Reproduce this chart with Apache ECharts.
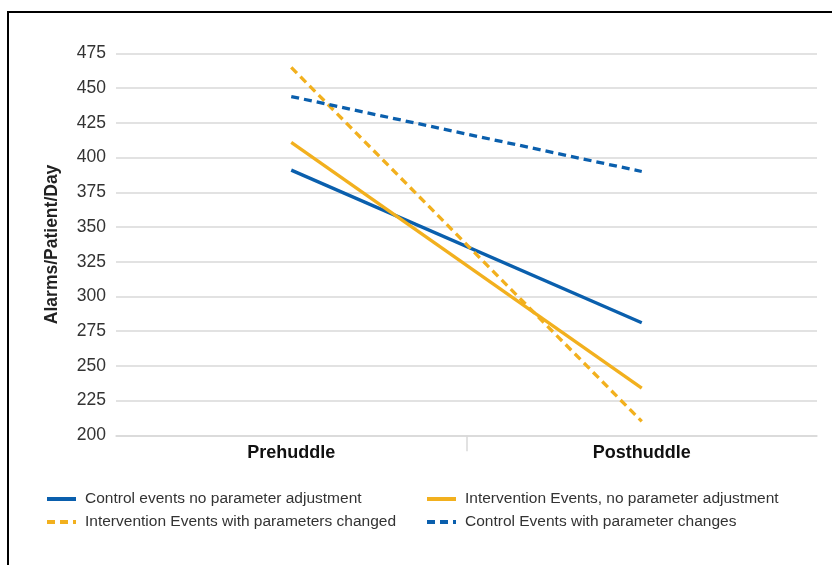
<!DOCTYPE html>
<html><head><meta charset="utf-8">
<script src="https://cdn.jsdelivr.net/npm/echarts@6/dist/echarts.min.js"></script>
<style>html,body{margin:0;padding:0;background:#fff}#c{width:832px;height:565px}</style>
</head><body><div id="c"></div>
<script>
const categories = ['Prehuddle', 'Posthuddle'];
const controlNoParam = [391, 281];
const interventionNoParam = [411, 234];
const interventionWithParams = [465, 210];
const controlWithParams = [444, 390];
const yTicks = {min: 200, max: 475, interval: 25};

const BLUE = '#0a5fad', YELLOW = '#f2b01e';
const FONT = '"Liberation Sans", Arial, sans-serif';
const chart = echarts.init(document.getElementById('c'));
function s(name, data, color, type) {
  return {name, type: 'line', data, symbol: 'none', silent: true, xAxisIndex: 0,
    lineStyle: {color, width: 3.3, type: type === 'dashed' ? [8, 5] : 'solid'},
    itemStyle: {color}};
}
const legendBase = {top: 491, orient: 'vertical', padding: 0, itemWidth: 29, itemHeight: 12, itemGap: 7,
  itemStyle: {opacity: 0},
  lineStyle: {width: 4},
  textStyle: {fontFamily: FONT, fontSize: 15.5, color: '#333', padding: [0, 0, 0, 4]}};
chart.setOption({
  animation: false,
  graphic: [{type: 'rect', shape: {x: 8, y: 12, width: 840, height: 580},
    style: {fill: 'none', stroke: '#000', lineWidth: 2}, silent: true}],
  grid: {left: 116, right: 15, top: 53.5, bottom: 129.7},
  legend: [
    Object.assign({}, legendBase, {left: 45,
      data: ['Control events no parameter adjustment', 'Intervention Events with parameters changed']}),
    Object.assign({}, legendBase, {left: 425,
      data: ['Intervention Events, no parameter adjustment', 'Control Events with parameter changes']})
  ],
  xAxis: [
    {type: 'category', data: categories, boundaryGap: true,
      axisLine: {lineStyle: {color: '#d9d9d9', width: 1.5}},
      axisTick: {show: false},
      axisLabel: {fontFamily: FONT, fontSize: 18, fontWeight: 'bold', color: '#111', margin: 9}},
    {type: 'category', data: ['', 'mid', ''], boundaryGap: false, position: 'bottom',
      axisLine: {show: false}, axisLabel: {show: false}, splitLine: {show: false},
      axisTick: {show: true, length: 16, interval: (i) => i === 1, lineStyle: {color: '#d9d9d9', width: 1.5}}}
  ],
  yAxis: {type: 'value', min: yTicks.min, max: yTicks.max, interval: yTicks.interval,
    name: 'Alarms/Patient/Day', nameLocation: 'middle', nameGap: 55,
    nameTextStyle: {fontFamily: FONT, fontSize: 17.5, color: '#222', fontWeight: 'bold'},
    axisLine: {show: false}, axisTick: {show: false},
    axisLabel: {fontFamily: FONT, fontSize: 17.5, color: '#333', margin: 10},
    splitLine: {lineStyle: {color: '#d9d9d9', width: 1.5}}},
  series: [
    s('Control events no parameter adjustment', controlNoParam, BLUE, 'solid'),
    s('Intervention Events, no parameter adjustment', interventionNoParam, YELLOW, 'solid'),
    s('Intervention Events with parameters changed', interventionWithParams, YELLOW, 'dashed'),
    s('Control Events with parameter changes', controlWithParams, BLUE, 'dashed')
  ]
});
</script></body></html>
